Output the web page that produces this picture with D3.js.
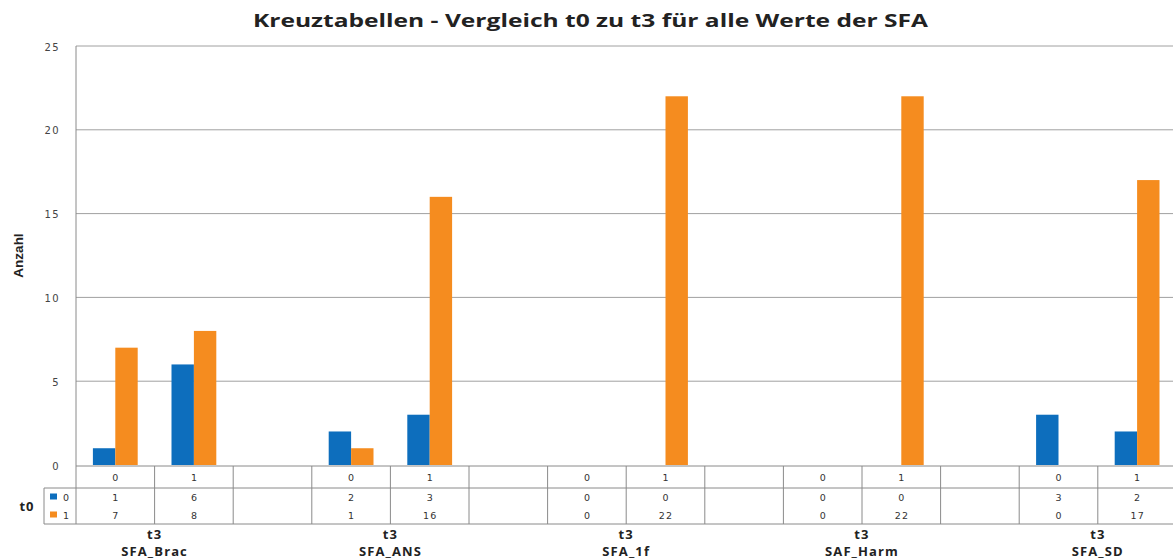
<!DOCTYPE html>
<html>
<head>
<meta charset="utf-8">
<script src="https://cdn.jsdelivr.net/npm/d3@7"></script>
<style>
  html, body { margin: 0; padding: 0; background: #fff; overflow: hidden; }
  svg { display: block; }
</style>
</head>
<body>
<div id="chart"></div>
<script>
// Cross tables t0 vs t3 for each SFA variable
const groups = ["SFA_Brac", "SFA_ANS", "SFA_1f", "SAF_Harm", "SFA_SD"];
const t3Values = ["0", "1"];
const seriesNames = ["0", "1"];           // t0 values
const t0Is0 = [[1, 6], [2, 3], [0, 0], [0, 0], [3, 2]];
const t0Is1 = [[7, 8], [1, 16], [0, 22], [0, 22], [0, 17]];
const yTicks = [0, 5, 10, 15, 20, 25];
const colors = ["#0d6ebd", "#f58c1f"];

const W = 1173, H = 559;
const svg = d3.select("#chart").append("svg").attr("width", W).attr("height", H);

const plotLeft = 76, colW = 78.6;
const plotTop = 46, base = 465;
const rowH = [22, 18, 18];            // category row, series rows
const legendLeft = 44;

// one column per t3 value plus an empty spacer column after each group
const columns = [];
groups.forEach((g, gi) => {
  t3Values.forEach((v, vi) => columns.push({ key: g + "|" + v, group: gi, t3: vi }));
  columns.push({ key: g + "|gap", group: gi, t3: null });
});

const x = d3.scaleBand().domain(columns.map(c => c.key))
  .range([plotLeft, plotLeft + colW * columns.length]).padding(0);
const y = d3.scaleLinear().domain([0, 25]).range([base, plotTop]);

const plotRight = plotLeft + colW * columns.length;

// gridlines
svg.append("g").selectAll("line").data(yTicks.filter(t => t > 0)).join("line")
  .attr("x1", plotLeft).attr("x2", plotRight)
  .attr("y1", d => y(d)).attr("y2", d => y(d))
  .attr("stroke", "#a0a0a0").attr("stroke-width", 1);

// y axis labels
const yAxis = d3.axisLeft(y).tickValues(yTicks).tickSize(0).tickPadding(16);
const ya = svg.append("g").attr("transform", `translate(${plotLeft},0)`).call(yAxis);
ya.select(".domain").remove();
ya.selectAll("text").attr("font-family", "DejaVu Sans").attr("font-size", 10)
  .attr("fill", "#444").attr("letter-spacing", 1.4).attr("dy", "0.4em");

// bars
const series = [t0Is0, t0Is1];
const barData = [];
columns.filter(c => c.t3 !== null).forEach(c => {
  seriesNames.forEach((s, si) => {
    barData.push({ col: c.key, s, v: series[si][c.group][c.t3], color: colors[si] });
  });
});
const bw = x.bandwidth() * 0.285;
const xBar = d3.scaleBand().domain(seriesNames)
  .range([x.bandwidth() / 2 - bw, x.bandwidth() / 2 + bw]).padding(0);
svg.append("g").selectAll("rect").data(barData.filter(d => d.v > 0)).join("rect")
  .attr("x", d => x(d.col) + xBar(d.s))
  .attr("width", xBar.bandwidth())
  .attr("y", d => y(d.v))
  .attr("height", d => y(0) - y(d.v))
  .attr("fill", d => d.color);

// data table below the plot
const r0 = base + 1, r1 = r0 + rowH[0], r2 = r1 + rowH[1], r3 = r2 + rowH[2];
const grid = svg.append("g").attr("stroke", "#8a8a8a").attr("stroke-width", 1).attr("fill", "none");
grid.append("line").attr("x1", plotLeft).attr("x2", plotLeft).attr("y1", plotTop).attr("y2", r3);
grid.append("line").attr("x1", plotLeft).attr("x2", plotRight).attr("y1", r0).attr("y2", r0);
grid.append("line").attr("x1", legendLeft).attr("x2", plotRight).attr("y1", r1).attr("y2", r1);
grid.append("line").attr("x1", legendLeft).attr("x2", plotRight).attr("y1", r3).attr("y2", r3);
grid.append("line").attr("x1", legendLeft).attr("x2", legendLeft).attr("y1", r1).attr("y2", r3);
grid.selectAll("line.col").data(columns).join("line").attr("class", "col")
  .attr("x1", d => x(d.key) + x.bandwidth()).attr("x2", d => x(d.key) + x.bandwidth())
  .attr("y1", r0).attr("y2", r3);

const cellText = svg.append("g").attr("font-family", "DejaVu Sans").attr("font-size", 9.5)
  .attr("fill", "#333").attr("text-anchor", "middle").attr("letter-spacing", 1.2);
columns.filter(c => c.t3 !== null).forEach(c => {
  const cx = x(c.key) + x.bandwidth() / 2 + 0.6;
  cellText.append("text").attr("x", cx).attr("y", (r0 + r1) / 2 + 3.5).text(t3Values[c.t3]);
  cellText.append("text").attr("x", cx).attr("y", (r1 + r2) / 2 + 3.5).text(series[0][c.group][c.t3]);
  cellText.append("text").attr("x", cx).attr("y", (r2 + r3) / 2 + 3.5).text(series[1][c.group][c.t3]);
});

// legend inside the table
seriesNames.forEach((s, si) => {
  const cy = si === 0 ? (r1 + r2) / 2 : (r2 + r3) / 2;
  svg.append("rect").attr("x", legendLeft + 6).attr("y", cy - 3.5).attr("width", 7).attr("height", 6)
    .attr("fill", colors[si]);
  svg.append("text").attr("x", legendLeft + 19).attr("y", cy + 3.5)
    .attr("font-family", "DejaVu Sans").attr("font-size", 9.5).attr("fill", "#333").text(s);
});

svg.append("text").attr("x", 27).attr("y", r2 + 4.5).attr("text-anchor", "middle")
  .attr("font-family", "Open Sans").attr("font-weight", 700).attr("font-size", 13)
  .attr("letter-spacing", 1).attr("fill", "#222").text("t0");

// group labels
groups.forEach((g, gi) => {
  const cx = x(g + "|1");
  const lbl = svg.append("g").attr("font-family", "Open Sans").attr("font-weight", 700)
    .attr("font-size", 13).attr("fill", "#222").attr("text-anchor", "middle").attr("letter-spacing", 1.1);
  lbl.append("text").attr("x", cx).attr("y", 539).text("t3");
  lbl.append("text").attr("x", cx).attr("y", 556).text(g);
});

// y axis title
svg.append("text").attr("transform", `translate(23,${(plotTop + base) / 2}) rotate(-90)`)
  .attr("text-anchor", "middle").attr("font-family", "Liberation Sans Narrow, Liberation Sans")
  .attr("font-weight", 700).attr("font-size", 13.5).attr("fill", "#222").text("Anzahl");

// chart title
svg.append("text").attr("x", 590.5).attr("y", 27).attr("text-anchor", "middle")
  .attr("font-family", "Open Sans").attr("font-weight", 700).attr("font-size", 18.5)
  .attr("textLength", 675).attr("lengthAdjust", "spacingAndGlyphs")
  .attr("fill", "#222").text("Kreuztabellen - Vergleich t0 zu t3 für alle Werte der SFA");
</script>
</body>
</html>
